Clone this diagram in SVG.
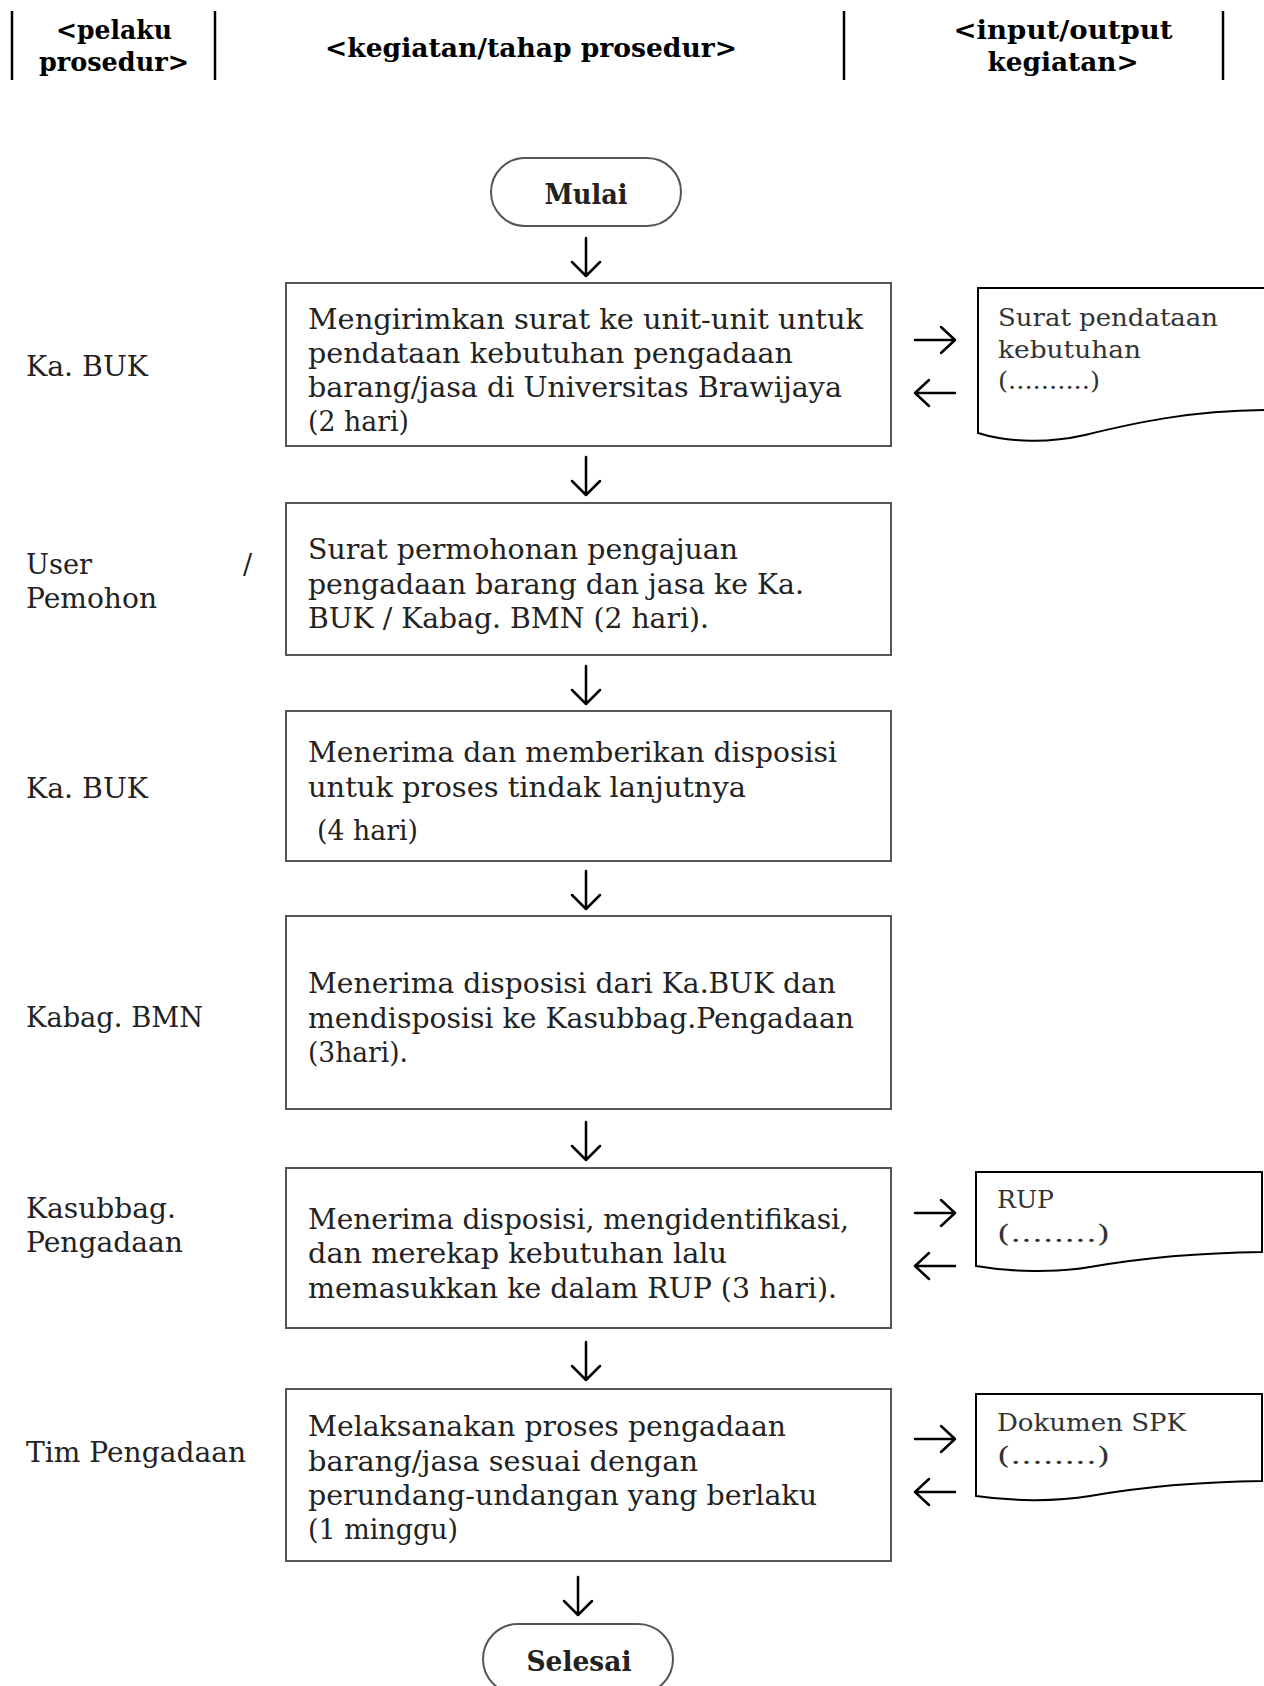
<svg xmlns="http://www.w3.org/2000/svg" width="1264" height="1686" viewBox="0 0 1264 1686">
<defs>
<style>
.hd{font-family:"DejaVu Serif","Liberation Serif",serif;font-weight:bold;font-size:26px;fill:#000;text-anchor:middle}
.t{font-family:"DejaVu Serif","Liberation Serif",serif;font-size:27px;fill:#222}
.d{font-family:"DejaVu Serif","Liberation Serif",serif;font-size:24px;fill:#333}
.term{font-family:"DejaVu Serif","Liberation Serif",serif;font-weight:bold;font-size:28px;fill:#222;text-anchor:middle}
.box{fill:#fff;stroke:#555;stroke-width:2}
.doc{fill:#fff;stroke:#000;stroke-width:2}
.hl{stroke:#000;stroke-width:2.5}
.ar{fill:none;stroke:#000;stroke-width:2.5;stroke-linecap:round;stroke-linejoin:round}
</style>
</defs>
<rect width="1264" height="1686" fill="#fff"/>
<g id="header">
<line class="hl" x1="12" y1="11" x2="12" y2="80"/>
<line class="hl" x1="215" y1="11" x2="215" y2="80"/>
<line class="hl" x1="844" y1="11" x2="844" y2="80"/>
<line class="hl" x1="1223" y1="11" x2="1223" y2="80"/>
<text class="hd" x="114" y="39" textLength="116" lengthAdjust="spacingAndGlyphs">&lt;pelaku</text>
<text class="hd" x="114" y="71" textLength="150" lengthAdjust="spacingAndGlyphs">prosedur&gt;</text>
<text class="hd" x="531" y="57" textLength="412" lengthAdjust="spacingAndGlyphs">&lt;kegiatan/tahap prosedur&gt;</text>
<text class="hd" x="1063" y="39" textLength="219" lengthAdjust="spacingAndGlyphs">&lt;input/output</text>
<text class="hd" x="1063" y="71" textLength="151" lengthAdjust="spacingAndGlyphs">kegiatan&gt;</text>
</g>
<g id="actors">
<text class="t" x="26" y="376" textLength="122" lengthAdjust="spacingAndGlyphs">Ka. BUK</text>
<text class="t" x="26" y="574" textLength="66" lengthAdjust="spacingAndGlyphs">User</text>
<text class="t" x="243" y="574">/</text>
<text class="t" x="26" y="608" textLength="131" lengthAdjust="spacingAndGlyphs">Pemohon</text>
<text class="t" x="26" y="798" textLength="122" lengthAdjust="spacingAndGlyphs">Ka. BUK</text>
<text class="t" x="26" y="1027" textLength="177" lengthAdjust="spacingAndGlyphs">Kabag. BMN</text>
<text class="t" x="26" y="1218" textLength="150" lengthAdjust="spacingAndGlyphs">Kasubbag.</text>
<text class="t" x="26" y="1252" textLength="157" lengthAdjust="spacingAndGlyphs">Pengadaan</text>
<text class="t" x="26" y="1462" textLength="220" lengthAdjust="spacingAndGlyphs">Tim Pengadaan</text>
</g>
<g id="start">
<rect class="box" x="491" y="158" width="190" height="68" rx="34" ry="34"/>
<text class="term" x="586" y="204" textLength="83" lengthAdjust="spacingAndGlyphs">Mulai</text>
</g>
<g id="step1">
<rect class="box" x="286" y="283" width="605" height="163"/>
<text class="t" x="308" y="329" textLength="555" lengthAdjust="spacingAndGlyphs">Mengirimkan surat ke unit-unit untuk</text>
<text class="t" x="308" y="363" textLength="485" lengthAdjust="spacingAndGlyphs">pendataan kebutuhan pengadaan</text>
<text class="t" x="308" y="397" textLength="534" lengthAdjust="spacingAndGlyphs">barang/jasa di Universitas Brawijaya</text>
<text class="t" x="308" y="431" textLength="101" lengthAdjust="spacingAndGlyphs">(2 hari)</text>
</g>
<g id="step2">
<rect class="box" x="286" y="503" width="605" height="152"/>
<text class="t" x="308" y="559" textLength="430" lengthAdjust="spacingAndGlyphs">Surat permohonan pengajuan</text>
<text class="t" x="308" y="594" textLength="496" lengthAdjust="spacingAndGlyphs">pengadaan barang dan jasa ke Ka.</text>
<text class="t" x="308" y="628" textLength="401" lengthAdjust="spacingAndGlyphs">BUK / Kabag. BMN (2 hari).</text>
</g>
<g id="step3">
<rect class="box" x="286" y="711" width="605" height="150"/>
<text class="t" x="308" y="762" textLength="529" lengthAdjust="spacingAndGlyphs">Menerima dan memberikan disposisi</text>
<text class="t" x="308" y="797" textLength="438" lengthAdjust="spacingAndGlyphs">untuk proses tindak lanjutnya</text>
<text class="t" x="317" y="840" textLength="101" lengthAdjust="spacingAndGlyphs">(4 hari)</text>
</g>
<g id="step4">
<rect class="box" x="286" y="916" width="605" height="193"/>
<text class="t" x="308" y="993" textLength="528" lengthAdjust="spacingAndGlyphs">Menerima disposisi dari Ka.BUK dan</text>
<text class="t" x="308" y="1028" textLength="546" lengthAdjust="spacingAndGlyphs">mendisposisi ke Kasubbag.Pengadaan</text>
<text class="t" x="308" y="1062" textLength="100" lengthAdjust="spacingAndGlyphs">(3hari).</text>
</g>
<g id="step5">
<rect class="box" x="286" y="1168" width="605" height="160"/>
<text class="t" x="308" y="1229" textLength="541" lengthAdjust="spacingAndGlyphs">Menerima disposisi, mengidentifikasi,</text>
<text class="t" x="308" y="1263" textLength="419" lengthAdjust="spacingAndGlyphs">dan merekap kebutuhan lalu</text>
<text class="t" x="308" y="1298" textLength="529" lengthAdjust="spacingAndGlyphs">memasukkan ke dalam RUP (3 hari).</text>
</g>
<g id="step6">
<rect class="box" x="286" y="1389" width="605" height="172"/>
<text class="t" x="308" y="1436" textLength="478" lengthAdjust="spacingAndGlyphs">Melaksanakan proses pengadaan</text>
<text class="t" x="308" y="1471" textLength="390" lengthAdjust="spacingAndGlyphs">barang/jasa sesuai dengan</text>
<text class="t" x="308" y="1505" textLength="509" lengthAdjust="spacingAndGlyphs">perundang-undangan yang berlaku</text>
<text class="t" x="308" y="1539" textLength="150" lengthAdjust="spacingAndGlyphs">(1 minggu)</text>
</g>
<g id="end">
<rect class="box" x="483" y="1624" width="190" height="70" rx="35" ry="35"/>
<text class="term" x="579" y="1671" textLength="105" lengthAdjust="spacingAndGlyphs">Selesai</text>
</g>
<g id="doc1">
<path class="doc" d="M978,433 V288 H1268 V410 C1190,410 1130,424 1085,435 C1050,443 1010,443 978,433 Z"/>
<text class="d" x="998" y="326" textLength="220" lengthAdjust="spacingAndGlyphs">Surat pendataan</text>
<text class="d" x="998" y="358" textLength="143" lengthAdjust="spacingAndGlyphs">kebutuhan</text>
<text class="d" x="998" y="389" textLength="102" lengthAdjust="spacingAndGlyphs">(..........)</text>
</g>
<g id="doc2">
<path class="doc" d="M976,1266 V1172 H1262 V1252 C1185,1253 1130,1260 1090,1267 C1055,1273 1010,1272 976,1266 Z"/>
<text class="d" x="997" y="1208" textLength="57" lengthAdjust="spacingAndGlyphs">RUP</text>
<text class="d" x="997" y="1242" textLength="113" lengthAdjust="spacingAndGlyphs">(........)</text>
</g>
<g id="doc3">
<path class="doc" d="M976,1496 V1394 H1262 V1481 C1185,1482 1130,1489 1090,1496 C1055,1502 1010,1501 976,1496 Z"/>
<text class="d" x="997" y="1431" textLength="189" lengthAdjust="spacingAndGlyphs">Dokumen SPK</text>
<text class="d" x="997" y="1464" textLength="113" lengthAdjust="spacingAndGlyphs">(........)</text>
</g>
<g id="connectors">
<path class="ar" d="M586,238 V276 M572,262 L586,276 L600,262"/>
<path class="ar" d="M586,457 V495 M572,481 L586,495 L600,481"/>
<path class="ar" d="M586,666 V704 M572,690 L586,704 L600,690"/>
<path class="ar" d="M586,871 V909 M572,895 L586,909 L600,895"/>
<path class="ar" d="M586,1122 V1160 M572,1146 L586,1160 L600,1146"/>
<path class="ar" d="M586,1342 V1380 M572,1366 L586,1380 L600,1366"/>
<path class="ar" d="M578,1577 V1615 M564,1601 L578,1615 L592,1601"/>
<path class="ar" d="M915,340 H955 M941,327 L955,340 L941,353"/>
<path class="ar" d="M955,393 H915 M929,380 L915,393 L929,406"/>
<path class="ar" d="M915,1213 H955 M941,1200 L955,1213 L941,1226"/>
<path class="ar" d="M955,1266 H915 M929,1253 L915,1266 L929,1279"/>
<path class="ar" d="M915,1439 H955 M941,1426 L955,1439 L941,1452"/>
<path class="ar" d="M955,1492 H915 M929,1479 L915,1492 L929,1505"/>
</g>
</svg>
